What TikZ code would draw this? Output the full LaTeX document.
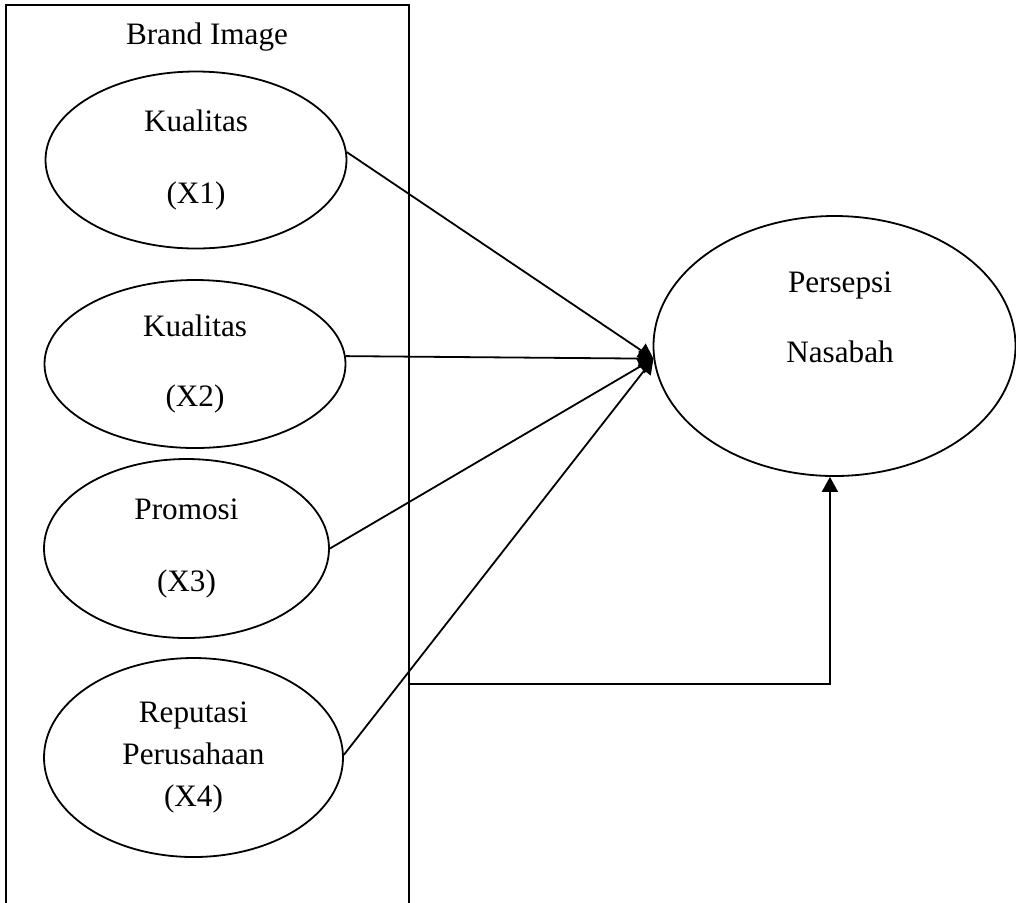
\documentclass[tikz,border=0pt]{standalone}
\usepackage{fontspec}
\setmainfont{Liberation Serif}
\usetikzlibrary{shapes.geometric,arrows.meta}
\begin{document}
\begin{tikzpicture}[x=0.5pt,y=-0.5pt,
  every node/.style={font=\fontsize{15.6}{18}\selectfont},
  oval/.style={draw,ellipse,line width=0.9pt,inner sep=0pt,align=center},
  txt/.style={inner sep=0pt,align=center},
  arr/.style={line width=0.9pt,-{Triangle[length=7.5pt,width=8pt]}}]
\useasboundingbox (0,0) rectangle (1016,902);
\clip (0,0) rectangle (1016,902);
\node[draw,line width=0.9pt,rectangle,minimum width=201.5pt,minimum height=455pt,inner sep=0pt] (brand) at (207.5,460) {};
\node[txt] (title) at (207,37) {Brand Image};
\node[oval,minimum width=150.5pt,minimum height=88.5pt] (e1) at (196,160) {Kualitas\\[18pt](X1)};
\node[oval,minimum width=150.5pt,minimum height=84pt] (e2) at (195,364) {Kualitas\\[17pt](X2)};
\node[oval,minimum width=142.5pt,minimum height=89.5pt] (e3) at (186.5,548.5) {Promosi\\[18pt](X3)};
\node[oval,minimum width=149.5pt,minimum height=99.5pt] (e4) at (193.5,757.5) {Reputasi\\[3pt]Perusahaan\\[3pt](X4)};
\node[oval,minimum width=181pt,minimum height=130pt] (pn) at (834.5,346) {};
\node[txt] (pntext) at (840,317) {Persepsi\\[17pt]Nasabah};
\coordinate (boxr) at (409,684);
\draw[arr] (e1.3) -- (pn.184);
\draw[arr] (e2.3) -- (pn.184);
\draw[arr] (e3.east) -- (pn.184);
\draw[arr] (e4.1) -- (pn.184);
\draw[arr] (boxr) -| (pn.268);
\end{tikzpicture}
\end{document}
